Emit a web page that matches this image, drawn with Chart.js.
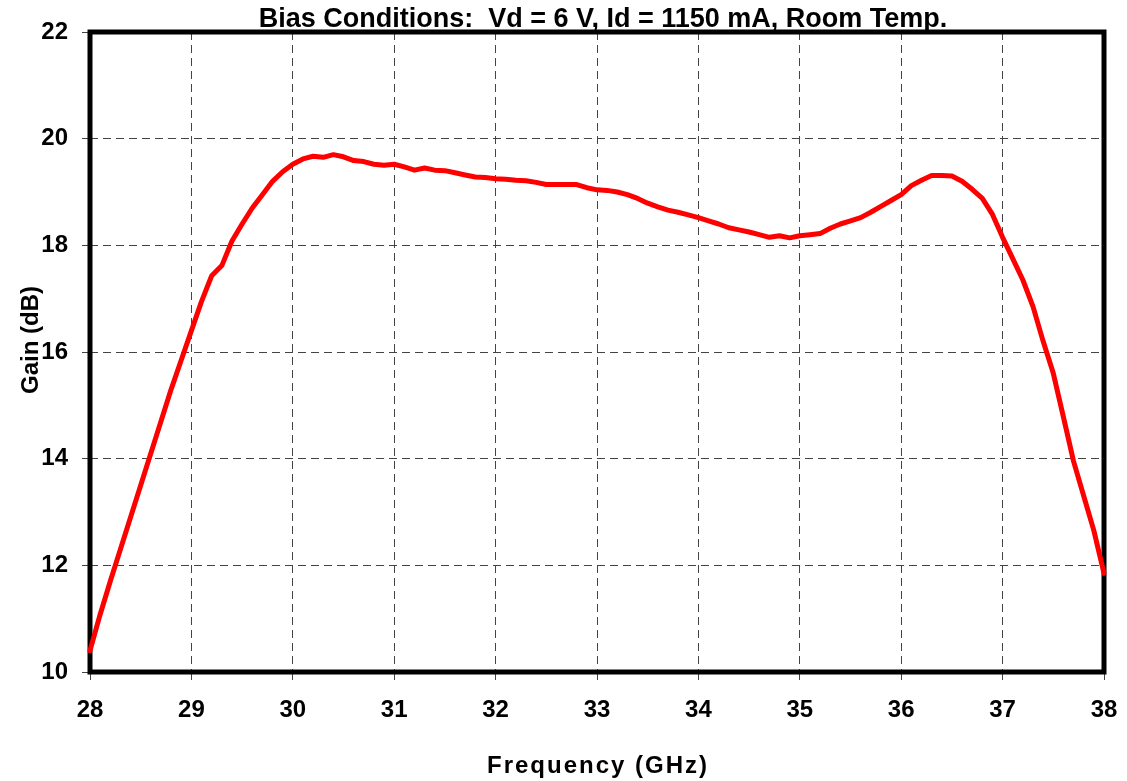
<!DOCTYPE html>
<html>
<head>
<meta charset="utf-8">
<script src="https://cdn.jsdelivr.net/npm/chart.js@4.4.0/dist/chart.umd.min.js"></script>
<style>
html, body { margin: 0; padding: 0; background: #fff; }
#wrap { width: 1127px; height: 781px; position: relative; }
</style>
</head>
<body>
<div id="wrap"><canvas id="gainChart"></canvas></div>
<script>
// 数据
const freqGHz = [
  28.0, 28.1, 28.2, 28.3, 28.4, 28.5, 28.6, 28.7, 28.8, 28.9,
  29.0, 29.1, 29.2, 29.3, 29.4, 29.5, 29.6, 29.7, 29.8, 29.9,
  30.0, 30.1, 30.2, 30.3, 30.4, 30.5, 30.6, 30.7, 30.8, 30.9,
  31.0, 31.1, 31.2, 31.3, 31.4, 31.5, 31.6, 31.7, 31.8, 31.9,
  32.0, 32.1, 32.2, 32.3, 32.4, 32.5, 32.6, 32.7, 32.8, 32.9,
  33.0, 33.1, 33.2, 33.3, 33.4, 33.5, 33.6, 33.7, 33.8, 33.9,
  34.0, 34.1, 34.2, 34.3, 34.4, 34.5, 34.6, 34.7, 34.8, 34.9,
  35.0, 35.1, 35.2, 35.3, 35.4, 35.5, 35.6, 35.7, 35.8, 35.9,
  36.0, 36.1, 36.2, 36.3, 36.4, 36.5, 36.6, 36.7, 36.8, 36.9,
  37.0, 37.1, 37.2, 37.3, 37.4, 37.5, 37.6, 37.7, 37.8, 37.9,
  38.0
];
const gainDb = [
  10.40, 11.08, 11.70, 12.30, 12.90, 13.50, 14.10, 14.70, 15.30, 15.85,
  16.40, 16.95, 17.43, 17.62, 18.08, 18.40, 18.70, 18.95, 19.20, 19.38,
  19.52, 19.62, 19.67, 19.65, 19.70, 19.66, 19.59, 19.57, 19.52, 19.50,
  19.52, 19.47, 19.41, 19.45, 19.41, 19.40, 19.36, 19.32, 19.28, 19.27,
  19.25, 19.24, 19.22, 19.21, 19.18, 19.14, 19.14, 19.14, 19.14, 19.08,
  19.04, 19.03, 19.00, 18.95, 18.88, 18.79, 18.72, 18.66, 18.62, 18.57,
  18.52, 18.46, 18.40, 18.33, 18.29, 18.25, 18.20, 18.15, 18.18, 18.14,
  18.18, 18.20, 18.22, 18.32, 18.40, 18.46, 18.52, 18.62, 18.73, 18.84,
  18.95, 19.12, 19.22, 19.31, 19.31, 19.30, 19.20, 19.05, 18.88, 18.58,
  18.15, 17.75, 17.35, 16.85, 16.20, 15.60, 14.78, 13.95, 13.30, 12.65,
  11.85
];
const xTicks = [28, 29, 30, 31, 32, 33, 34, 35, 36, 37, 38];
const yTicks = [10, 12, 14, 16, 18, 20, 22];

const titleText = 'Bias Conditions:  Vd = 6 V, Id = 1150 mA, Room Temp.';
const xTitle = 'Frequency (GHz)';
const yTitle = 'Gain (dB)';

const fontFamily = '"Liberation Sans", Arial, sans-serif';

// 边框和标题
const framePlugin = {
  id: 'frame',
  beforeDatasetsDraw(chart) {
    const { ctx, chartArea: a } = chart;
    ctx.save();
    ctx.strokeStyle = '#000';
    ctx.lineWidth = 5;
    ctx.strokeRect(a.left, a.top, a.right - a.left, a.bottom - a.top);
    ctx.restore();
  },
  afterDraw(chart) {
    const { ctx } = chart;
    ctx.save();
    ctx.fillStyle = '#000';
    ctx.textAlign = 'center';
    ctx.textBaseline = 'alphabetic';
    ctx.font = 'bold 27px ' + fontFamily;
    ctx.fillText(titleText, 603, 27);

    ctx.font = 'bold 24px ' + fontFamily;
    ctx.letterSpacing = '2px';
    ctx.fillText(xTitle, 598, 773);
    ctx.letterSpacing = '0px';

    ctx.translate(38, 340);
    ctx.rotate(-Math.PI / 2);
    ctx.fillText(yTitle, 0, 0);
    ctx.restore();
  }
};

const points = freqGHz.map((f, i) => ({ x: f, y: gainDb[i] }));

const ctx = document.getElementById('gainChart').getContext('2d');
new Chart(ctx, {
  type: 'line',
  data: {
    datasets: [{
      data: points,
      borderColor: '#ff0000',
      borderWidth: 5,
      pointRadius: 0,
      tension: 0,
      borderJoinStyle: 'round',
      borderCapStyle: 'round',
      clip: 6
    }]
  },
  options: {
    responsive: true,
    maintainAspectRatio: false,
    animation: false,
    layout: {
      padding: { left: 0, right: 23, top: 32, bottom: 0 }
    },
    plugins: {
      legend: { display: false },
      tooltip: { enabled: false }
    },
    scales: {
      x: {
        type: 'linear',
        min: 28,
        max: 38,
        afterBuildTicks: (scale) => { scale.ticks = xTicks.map(v => ({ value: v })); },
        afterFit: (scale) => {
          scale.height = 109;
          scale.paddingLeft = 0;
          scale.paddingRight = 0;
        },
        border: { display: false, dash: [8, 5] },
        grid: {
          color: '#444',
          lineWidth: 1,
          tickLength: 8,
          tickColor: '#444',
          tickWidth: 1
        },
        ticks: {
          color: '#000',
          padding: 16,
          maxRotation: 0,
          font: { family: fontFamily, size: 24, weight: 'bold' }
        }
      },
      y: {
        type: 'linear',
        min: 10,
        max: 22,
        afterBuildTicks: (scale) => { scale.ticks = yTicks.map(v => ({ value: v })); },
        afterFit: (scale) => {
          scale.width = 90;
          scale.paddingTop = 0;
          scale.paddingBottom = 0;
        },
        border: { display: false, dash: [8, 5] },
        grid: {
          color: '#444',
          lineWidth: 1,
          tickLength: 8,
          tickColor: '#444',
          tickWidth: 1
        },
        ticks: {
          color: '#000',
          padding: 14,
          font: { family: fontFamily, size: 24, weight: 'bold' }
        }
      }
    }
  },
  plugins: [framePlugin]
});
</script>
</body>
</html>
